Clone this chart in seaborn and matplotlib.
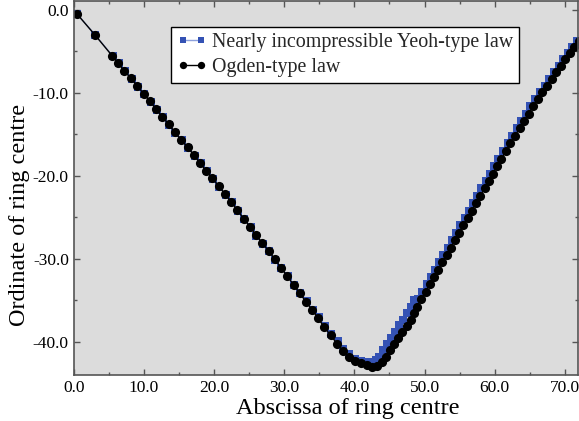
import matplotlib
matplotlib.use("Agg")
import matplotlib.pyplot as plt
import seaborn as sns
from matplotlib.ticker import MultipleLocator, FormatStrFormatter

# ---- data ----
ogden_x = [0.47, 3.03, 5.5, 6.31, 7.21, 8.16, 9.06, 9.97, 10.87, 11.72, 12.62, 13.53,
           14.39, 15.28, 16.24, 17.14, 17.99, 18.85, 19.74, 20.66, 21.55, 22.45, 23.3,
           24.22, 25.11, 25.97, 26.87, 27.78, 28.68, 29.53, 30.43, 31.34, 32.2, 33.09,
           33.99, 34.84, 35.7, 36.61, 37.55, 38.4, 39.26, 40.07, 40.93, 41.74, 42.45,
           43.16, 43.87, 44.49, 45.06, 45.67, 46.24, 46.81, 47.44, 48.01, 48.52, 48.95,
           49.55, 50.15, 50.75, 51.35, 51.95, 52.55, 53.15, 53.75, 54.35, 54.95, 55.55,
           56.15, 56.75, 57.35, 57.95, 58.55, 59.15, 59.75, 60.35, 60.95, 61.6, 62.25,
           62.9, 63.55, 64.2, 64.85, 65.5, 66.15, 66.8, 67.45, 68.1, 68.75, 69.4, 70.05,
           70.7, 71.35, 72.0]
ogden_y = [-0.48, -3.01, -5.54, -6.39, -7.35, -8.23, -9.16, -10.08, -11.0, -11.93, -12.86,
           -13.77, -14.7, -15.63, -16.54, -17.51, -18.43, -19.36, -20.28, -21.2, -22.17,
           -23.13, -24.1, -25.14, -26.11, -27.11, -28.07, -29.04, -30.04, -31.05, -32.08,
           -33.1, -34.13, -35.14, -36.14, -37.14, -38.23, -39.19, -40.24, -41.05, -41.77,
           -42.29, -42.57, -42.77, -42.98, -42.89, -42.37, -41.77, -40.96, -40.24, -39.55,
           -38.76, -38.07, -37.35, -36.54, -35.75, -34.86, -33.97, -33.08, -32.19, -31.3,
           -30.41, -29.52, -28.63, -27.74, -26.85, -25.96, -25.07, -24.18, -23.29, -22.4,
           -21.51, -20.62, -19.73, -18.84, -17.95, -17.01, -16.08, -15.16, -14.26, -13.37,
           -12.49, -11.63, -10.78, -9.94, -9.11, -8.3, -7.5, -6.71, -5.94, -5.18, -4.43,
           -3.68]

yeoh_x = [0.5, 3.1, 5.6, 6.4, 7.3, 8.25, 9.15, 10.05, 10.95, 11.8, 12.7, 13.6,
          14.5, 15.4, 16.35, 17.25, 18.1, 18.95, 19.85, 20.75, 21.65, 22.55, 23.4,
          24.3, 25.2, 26.05, 26.95, 27.85, 28.75, 29.6, 30.5, 31.4, 32.3, 33.2,
          34.1, 34.95, 35.8, 36.7, 37.6, 38.45, 39.3, 40.1, 40.9, 41.7, 42.45,
          43.15, 43.55, 44.05, 44.6, 45.2, 45.8, 46.35, 46.95, 47.55, 48.1, 48.55,
          49.1, 49.7, 50.3, 50.9, 51.5, 52.1, 52.7, 53.3, 53.9, 54.5, 55.1,
          55.7, 56.3, 56.9, 57.5, 58.1, 58.7, 59.3, 59.9, 60.5, 61.2, 61.85,
          62.5, 63.15, 63.8, 64.45, 65.1, 65.8, 66.45, 67.1, 67.75, 68.4, 69.1, 69.75,
          70.4, 71.05, 71.75]
yeoh_y = [-0.5, -3.05, -5.6, -6.45, -7.4, -8.3, -9.25, -10.15, -11.1, -12.0, -12.95,
          -13.85, -14.8, -15.7, -16.65, -17.6, -18.5, -19.45, -20.35, -21.3, -22.25,
          -23.2, -24.2, -25.2, -26.2, -27.2, -28.15, -29.1, -30.1, -31.1, -32.1,
          -33.1, -34.1, -35.1, -36.1, -37.05, -38.05, -39.0, -39.95, -40.8, -41.5,
          -42.1, -42.35, -42.45, -42.45, -42.15, -41.8, -41.0, -40.2, -39.5, -38.8,
          -38.0, -37.3, -36.5, -35.75, -35.0, -34.86, -33.97, -33.08, -32.19, -31.3,
          -30.41, -29.52, -28.63, -27.74, -26.85, -25.96, -25.07, -24.18, -23.29, -22.4,
          -21.51, -20.62, -19.73, -18.84, -17.95, -17.01, -16.08, -15.16, -14.26, -13.37,
          -12.49, -11.63, -10.78, -9.94, -9.11, -8.3, -7.5, -6.71, -5.94, -5.18, -4.43,
          -3.68]

labels = ["Nearly incompressible Yeoh-type law", "Ogden-type law"]

# ---- style ----
sns.set_theme(style="ticks")
plt.rcParams['font.family'] = ['Liberation Serif', 'DejaVu Serif']
plt.rcParams['axes.unicode_minus'] = False
plt.rcParams['axes.facecolor'] = '#dcdcdc'

fig, ax = plt.subplots(figsize=(5.79, 4.21), dpi=100)
fig.subplots_adjust(left=0.1273, right=0.998, bottom=0.110, top=0.998)

sns.lineplot(x=yeoh_x, y=yeoh_y, sort=False, estimator=None, ax=ax,
             color='#8da0dc', linewidth=1.0, marker='s', markersize=5.4,
             markerfacecolor='#3452b4', markeredgecolor='#3452b4', markeredgewidth=0,
             label=labels[0])
sns.lineplot(x=ogden_x, y=ogden_y, sort=False, estimator=None, ax=ax,
             color='black', linewidth=1.0, marker='o', markersize=6.6,
             markerfacecolor='black', markeredgecolor='black', markeredgewidth=0,
             label=labels[1])

ax.set_xlim(0, 71.85)
ax.set_ylim(-43.95, 1.1)
ax.xaxis.set_major_locator(MultipleLocator(10))
ax.xaxis.set_minor_locator(MultipleLocator(5))
ax.yaxis.set_major_locator(MultipleLocator(10))
ax.yaxis.set_minor_locator(MultipleLocator(5))
ax.xaxis.set_major_formatter(FormatStrFormatter('%.1f'))
ax.yaxis.set_major_formatter(FormatStrFormatter('%.1f'))
ax.tick_params(which='both', direction='in', top=True, right=True,
               color='#555555', width=1.0, labelsize=12.5, pad=3.5, labelcolor='black')
ax.tick_params(which='major', length=4)
ax.tick_params(which='minor', length=2.5)
for s in ax.spines.values():
    s.set_color('#555555')
    s.set_linewidth(1.2)

ax.set_xlabel("Abscissa of ring centre", fontsize=17.5, color='black')
ax.set_ylabel("Ordinate of ring centre", fontsize=17.5, color='black')
ax.xaxis.set_label_coords(0.544, -0.062)
ax.yaxis.set_label_coords(-0.087, 0.427)

leg = ax.legend(loc='upper left', bbox_to_anchor=(0.192, 0.931), borderaxespad=0,
                fontsize=14.4, frameon=True, fancybox=False, framealpha=1,
                edgecolor='black', facecolor='white', handlelength=1.5,
                handletextpad=0.25, borderpad=0.3, labelspacing=0.3, numpoints=2,
                markerscale=0.8)
leg.get_frame().set_linewidth(1.0)

plt.savefig("out.png", dpi=100)
